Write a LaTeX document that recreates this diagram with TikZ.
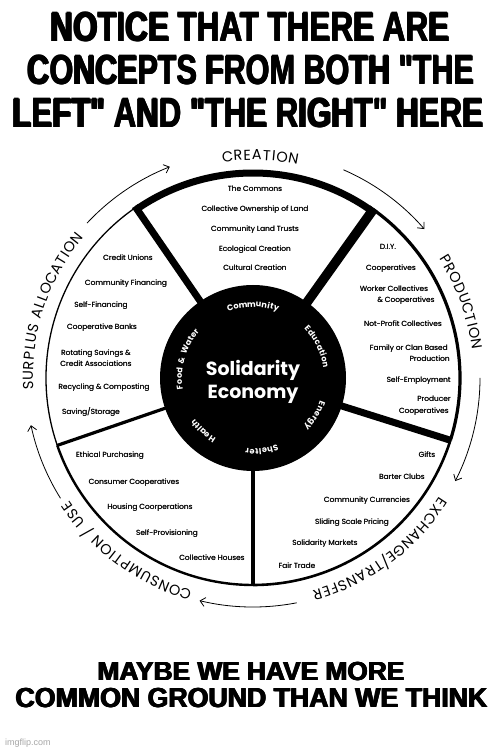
\documentclass[tikz,border=0pt]{standalone}
\usepackage{fontspec}
\usepackage{graphicx}
\usetikzlibrary{arrows.meta}
\setmainfont{Poppins}
\newfontfamily\impact{Liberation Sans}
\newfontfamily\wmfont{Liberation Sans}
\newcommand\slashch{/}
\newcommand\heavy[1]{\rlap{#1}\rlap{\kern0.45pt#1}\rlap{\raisebox{0.3pt}{\kern0.22pt#1}}\kern0.45pt#1}
\newcommand\semib[1]{\rlap{#1}\kern0.14pt#1}
\newcommand\itm[5][base]{\node[item,anchor=#1] (#2) at (#3,{747.5-#4}) {\semib{#5}};}
% letters on an arc: tops outward, reading clockwise
\newcommand\arcletters[3][]{\foreach \lch/\qa in {#3}{\node[rotate=\qa-90,inner sep=0pt,anchor=base,#1] at (\qa:#2) {\lch};}}
\begin{document}
\begin{tikzpicture}[x=1pt,y=1pt,
  item/.style={font=\fontsize{7.4}{9}\selectfont, inner sep=0pt, text=black},
  flow/.style={line width=0.8pt, -{Straight Barb[length=5pt,width=9pt]}},
  ttl/.style={inner sep=0pt, anchor=base},
  ringtxt/.style={font=\fontsize{14.5}{14.5}\selectfont},
  hubtxt/.style={text=white,font=\bfseries\fontsize{8.2}{9}\selectfont}]
\useasboundingbox (0,0) rectangle (500,750);
\fill[white] (0,0) rectangle (500,750);
% ---------- titles ----------
\node[ttl] (t1) at (250,{750-42}) {\resizebox{400pt}{30pt}{\impact\bfseries\heavy{NOTICE THAT THERE ARE}}};
\node[ttl] (t2) at (251,{750-85}) {\resizebox{448pt}{30pt}{\impact\bfseries\heavy{CONCEPTS FROM BOTH "THE}}};
\node[ttl] (t3) at (248,{750-128}) {\resizebox{472pt}{30pt}{\impact\bfseries\heavy{LEFT" AND "THE RIGHT" HERE}}};
\node[ttl] (b1) at (251,{750-681}) {\resizebox{308pt}{19pt}{\impact\bfseries\heavy{MAYBE WE HAVE MORE}}};
\node[ttl] (b2) at (251.5,{750-708}) {\resizebox{473pt}{20pt}{\impact\bfseries\heavy{COMMON GROUND THAN WE THINK}}};
\node[inner sep=0pt,anchor=base west,text=black!35,font=\wmfont\fontsize{9}{9}\selectfont] (wm) at (5,{750-745}) {imgflip.com};
% ---------- wheel ----------
\begin{scope}[shift={(253,372)}]
  % outer rims
  \draw[line width=1.3pt] (124.5:207) arc[start angle=124.5,end angle=199,radius=207pt];
  \draw[line width=2.4pt] (199:207) arc[start angle=199,end angle=270,radius=207pt];
  \draw[line width=2.6pt] (270:207) arc[start angle=270,end angle=342.5,radius=207pt];
  \draw[line width=3.2pt] (-17.5:207) arc[start angle=-17.5,end angle=54.5,radius=207pt];
  \draw[line width=7pt] (124.5:205) arc[start angle=124.5,end angle=54.5,radius=205pt];
  % spokes
  \draw[line width=7pt] (124.5:88) -- (124.5:208.5);
  \draw[line width=9.5pt] (54.5:88) -- (54.5:208.5);
  \draw[line width=7pt] (-17.5:88) -- (-17.5:208);
  \draw[line width=4pt] (-90:88) -- (-90:208);
  \draw[line width=3.2pt] (199:88) -- (199:207.5);
  % hub
  \fill (0,0) circle[radius=93pt];
  \node[inner sep=0pt,anchor=base,text=white,font=\bfseries\fontsize{19}{22}\selectfont] (hub1) at (0,2) {Solidarity};
  \node[inner sep=0pt,anchor=base,text=white,font=\bfseries\fontsize{19}{22}\selectfont] (hub2) at (0,-21) {Economy};
  \arcletters[hubtxt]{71}{C/108.07,o/103.25,m/97.75,m/91.23,u/85.73,n/81.24,i/77.80,t/75.07,y/71.45}
  \arcletters[hubtxt]{71}{E/42.07,d/37.67,u/33.13,c/28.79,a/24.48,t/20.73,i/18.01,o/14.57,n/10.08}
  \arcletters[hubtxt]{71}{E/-20.59,n/-24.92,e/-29.32,r/-33.09,g/-37.02,y/-41.41}
  \arcletters[hubtxt]{71}{S/-72.10,h/-76.56,e/-80.96,l/-84.31,t/-87.04,e/-90.72,r/-94.50}
  \arcletters[hubtxt]{71}{H/-123.66,e/-129.25,a/-132.81,l/-136.23,t/-138.96,h/-142.73}
  \arcletters[hubtxt]{71}{F/187.28,o/183.03,o/178.54,d/173.99,\&/166.01,W/157.04,a/151.54,t/147.79,e/144.11,r/140.34}
  % outer labels
  \arcletters[ringtxt]{218}{C/96.55,R/93.90,E/91.51,A/88.99,T/86.41,I/84.61,O/82.46,N/79.50}
  \arcletters[ringtxt]{221}{P/31.58,R/29.11,O/26.36,D/23.45,U/20.69,C/17.97,T/15.44,I/13.66,O/11.55,N/8.62}
  \arcletters[ringtxt]{221}{E/-33.45,X/-35.85,C/-38.52,H/-41.29,A/-44.08,N/-46.89,G/-49.78,E/-52.35,\slashch/-54.28,T/-56.27,R/-58.69,A/-61.46,N/-64.13,S/-66.70,F/-68.90,E/-71.05,R/-73.40}
  \arcletters[ringtxt]{221}{C/-107.41,O/-110.28,N/-113.19,S/-115.77,U/-118.27,M/-121.35,P/-124.29,T/-126.67,I/-128.45,O/-130.56,N/-133.49,\slashch/-137.03,U/-140.51,S/-143.01,E/-145.26}
  \arcletters[ringtxt]{220}{S/181.90,U/179.39,R/176.77,P/174.29,L/172.10,U/169.77,S/167.26,A/163.41,L/161.05,L/159.11,O/156.63,C/153.75,A/150.98,T/148.42,I/146.63,O/144.51,N/141.57}
  % flow arrows
  \draw[flow] (137:227) arc[start angle=137,end angle=111.5,radius=227pt];
  \draw[flow] (66.5:227) arc[start angle=66.5,end angle=41,radius=227pt];
  \draw[flow] (0:227) arc[start angle=0,end angle=-27,radius=227pt];
  \draw[flow] (-79:229) arc[start angle=-79,end angle=-103.5,radius=229pt];
  \draw[flow] (212:227) arc[start angle=212,end angle=192,radius=227pt];
\end{scope}
% ---------- sector items ----------
\itm{c1}{255}{189}{The Commons}
\itm{c2}{255}{209}{Collective Ownership of Land}
\itm{c3}{255}{229}{Community Land Trusts}
\itm{c4}{255}{249}{Ecological Creation}
\itm{c5}{255}{268}{Cultural Creation}
\itm{s1}{128}{258}{Credit Unions}
\itm{s2}{126}{283}{Community Financing}
\itm{s3}{101}{305}{Self-Financing}
\itm{s4}{102}{327}{Cooperative Banks}
\itm{s5}{96}{353}{Rotating Savings \&}
\itm{s6}{96}{364}{Credit Associations}
\itm{s7}{104}{387}{Recycling \& Composting}
\itm{s8}{91}{412}{Saving/Storage}
\itm{p1}{388}{247}{D.I.Y.}
\itm{p2}{391}{268}{Cooperatives}
\itm{p3}{394}{289}{Worker Collectives}
\itm{p4}{406}{300}{\& Cooperatives}
\itm{p5}{403}{324}{Not-Profit Collectives}
\itm[base east]{p6}{448}{348}{Family or Clan Based}
\itm[base east]{p7}{450}{359}{Production}
\itm[base east]{p8}{451}{380}{Self-Employment}
\itm[base east]{p9}{451}{399}{Producer}
\itm[base east]{p10}{449}{411}{Cooperatives}
\itm{e1}{427}{455}{Gifts}
\itm{e2}{402}{477}{Barter Clubs}
\itm{e3}{367}{500}{Community Currencies}
\itm{e4}{352}{522}{Sliding Scale Pricing}
\itm{e5}{325}{543}{Solidarity Markets}
\itm{e6}{297}{566}{Fair Trade}
\itm{u1}{110}{455}{Ethical Purchasing}
\itm{u2}{134}{482}{Consumer Cooperatives}
\itm{u3}{150}{507}{Housing Coorperations}
\itm{u4}{167}{533}{Self-Provisioning}
\itm{u5}{212}{558}{Collective Houses}
\end{tikzpicture}
\end{document}
